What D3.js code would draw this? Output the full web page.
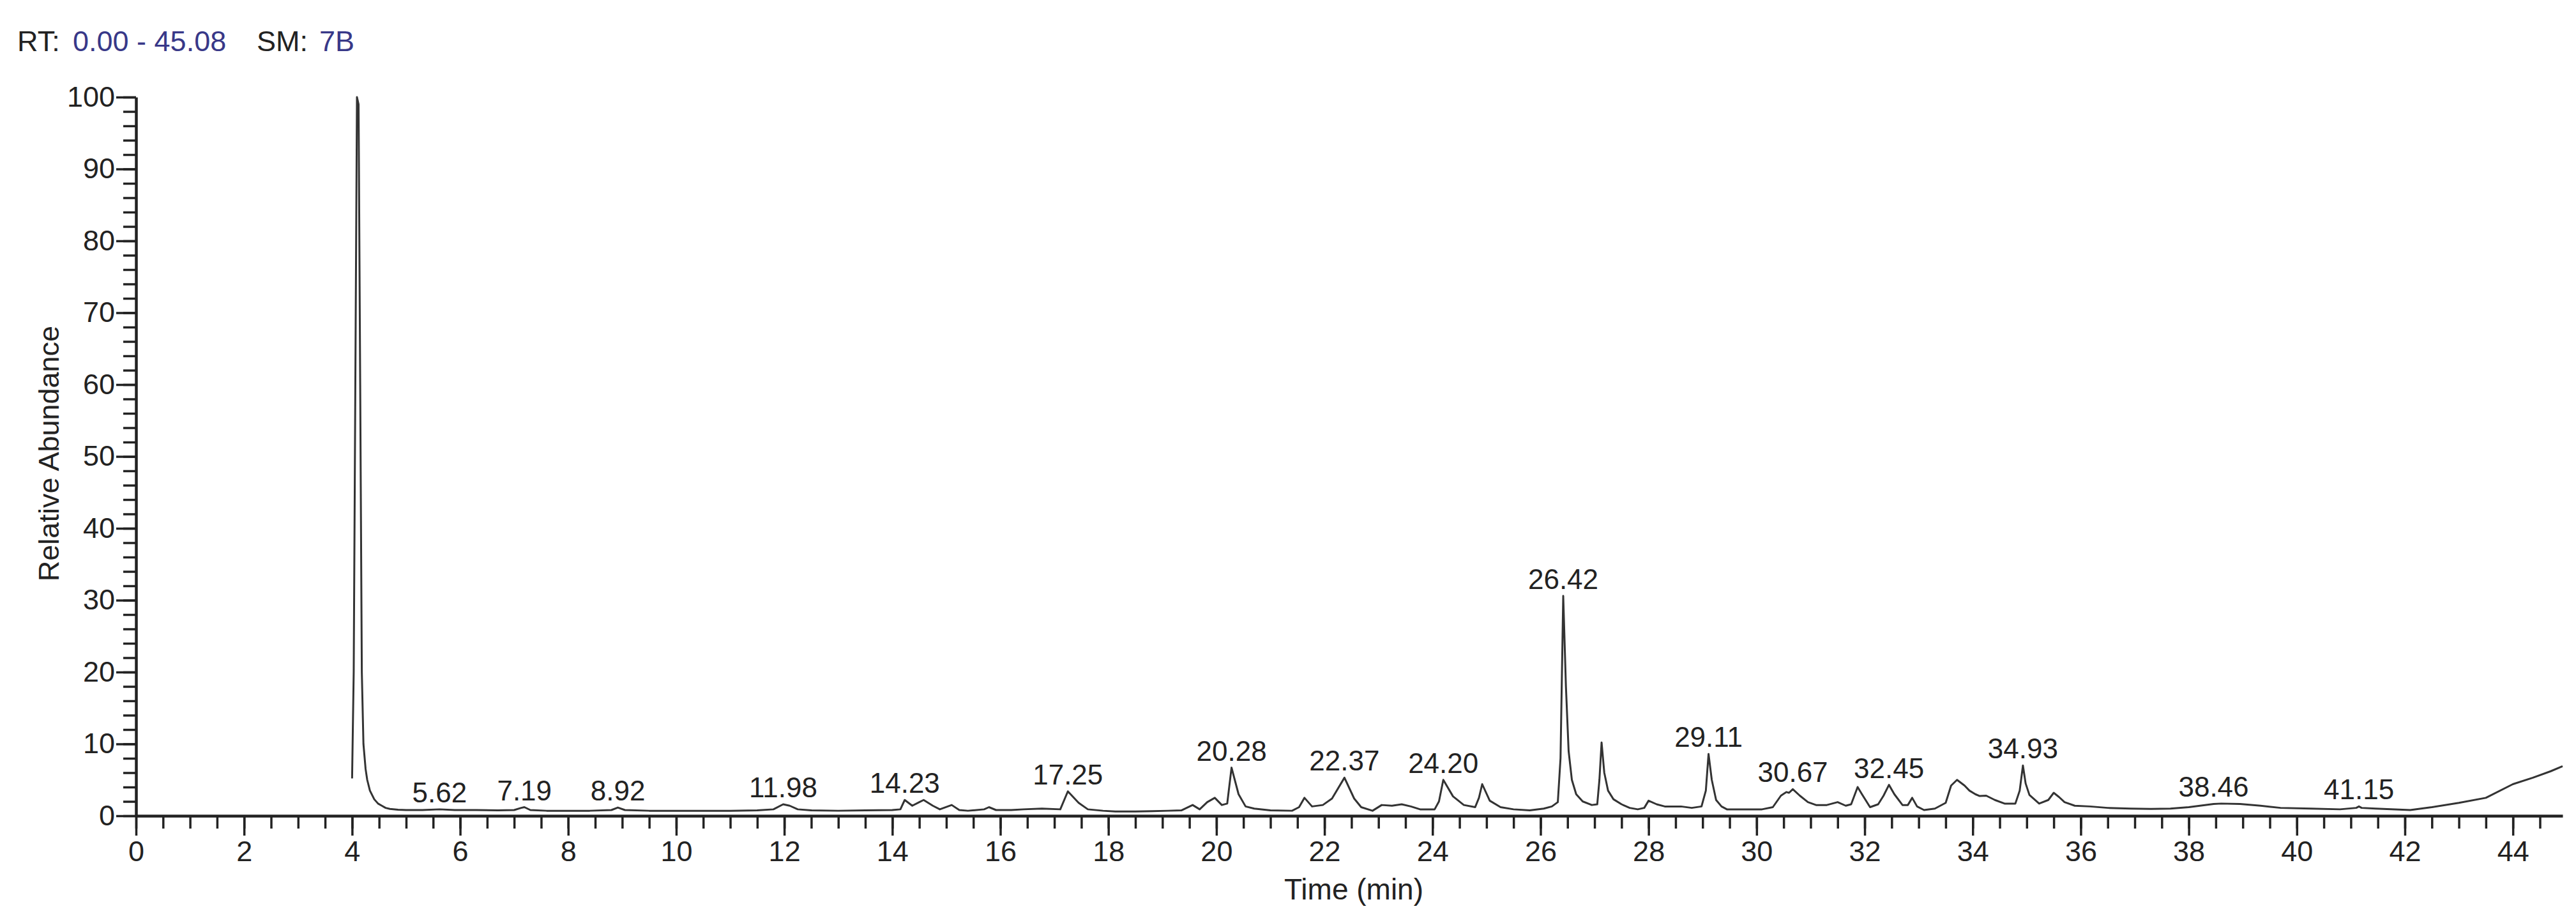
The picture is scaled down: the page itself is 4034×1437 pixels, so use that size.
<!DOCTYPE html>
<html>
<head>
<meta charset="utf-8">
<script src="https://cdn.jsdelivr.net/npm/d3@7"></script>
<style>
  body { margin: 0; background: #fff; }
  text { font-family: "Liberation Sans", Arial, sans-serif; }
</style>
</head>
<body>
<div id="chart"></div>
<script>
// chromatogram trace (time in min, relative abundance in %)
var rtTimes = [4.00, 4.03, 4.06, 4.09, 4.12, 4.15, 4.18, 4.21, 4.25, 4.28, 4.33, 4.41, 4.48, 4.55, 4.62, 4.70, 4.85,
  5.0, 5.3, 5.62, 5.9, 6.3, 6.7, 7.0, 7.13, 7.19, 7.3, 7.6, 8.0, 8.4, 8.8, 8.92, 9.05, 9.5, 10.0, 10.5, 11.0, 11.5,
  11.8, 11.98, 12.1, 12.25, 12.5, 13.0, 13.5, 14.0, 14.15, 14.23, 14.37, 14.5, 14.58, 14.75, 14.88, 15.1, 15.24, 15.4,
  15.7, 15.79, 15.92, 16.2, 16.43, 16.77, 17.11, 17.25, 17.35, 17.45, 17.62, 17.9, 18.13, 18.5, 18.81, 19.1, 19.35,
  19.56, 19.69, 19.83, 19.97, 20.1, 20.2, 20.28, 20.41, 20.54, 20.7, 21.0, 21.4, 21.53, 21.63, 21.77, 21.97, 22.14,
  22.37, 22.55, 22.68, 22.89, 23.06, 23.25, 23.43, 23.6, 23.77, 24.04, 24.12, 24.20, 24.38, 24.58, 24.79, 24.86, 24.92,
  25.06, 25.26, 25.5, 25.8, 26.06, 26.21, 26.32, 26.37, 26.42, 26.47, 26.52, 26.58, 26.66, 26.78, 26.95, 27.05, 27.09,
  27.13, 27.18, 27.25, 27.35, 27.5, 27.65, 27.8, 27.92, 28.0, 28.15, 28.3, 28.6, 28.8, 28.98, 29.06, 29.11, 29.17,
  29.25, 29.35, 29.45, 29.8, 30.1, 30.3, 30.45, 30.55, 30.6, 30.67, 30.8, 30.95, 31.1, 31.3, 31.5, 31.65, 31.75, 31.87,
  31.95, 32.1, 32.25, 32.35, 32.45, 32.55, 32.7, 32.8, 32.88, 32.97, 33.1, 33.3, 33.5, 33.6, 33.71, 33.85, 33.94, 34.05,
  34.13, 34.25, 34.41, 34.59, 34.79, 34.87, 34.93, 34.98, 35.05, 35.23, 35.4, 35.5, 35.6, 35.7, 35.89, 36.17, 36.5,
  36.92, 37.3, 37.66, 38.0, 38.46, 38.6, 38.95, 39.33, 39.7, 40.26, 40.8, 41.1, 41.15, 41.2, 41.46, 42.1, 42.5, 43.0,
  43.5, 44.0, 44.37, 44.7, 44.92];
var abundance = [5.2, 20, 60, 100, 99, 60, 20, 10, 6.5, 5.0, 3.5, 2.3, 1.7, 1.4, 1.1, 0.95, 0.85,
  0.8, 0.8, 0.9, 0.8, 0.8, 0.75, 0.8, 1.1, 1.2, 0.8, 0.7, 0.7, 0.7, 0.8, 1.15, 0.8, 0.7, 0.7, 0.7, 0.7, 0.75,
  0.9, 1.6, 1.4, 0.9, 0.75, 0.7, 0.75, 0.8, 0.9, 2.2, 1.4, 1.9, 2.2, 1.4, 0.9, 1.5, 0.8, 0.7,
  0.9, 1.2, 0.8, 0.8, 0.9, 1.0, 0.9, 3.4, 2.6, 1.8, 0.9, 0.7, 0.6, 0.6, 0.65, 0.7, 0.75,
  1.5, 0.9, 1.9, 2.5, 1.5, 1.7, 6.7, 3.0, 1.3, 1.0, 0.75, 0.7, 1.2, 2.5, 1.3, 1.5, 2.4,
  5.3, 2.4, 1.2, 0.7, 1.5, 1.4, 1.6, 1.3, 0.9, 0.9, 2.0, 5.0, 2.7, 1.5, 1.2, 2.5, 4.4,
  2.1, 1.2, 0.9, 0.75, 1.0, 1.3, 1.9, 8, 30.6, 18, 9, 5, 3, 2.0, 1.5, 1.6, 5,
  10.2, 6, 3.5, 2.3, 1.6, 1.1, 0.9, 1.1, 2.1, 1.6, 1.3, 1.3, 1.1, 1.3, 3.5, 8.6, 5,
  2.2, 1.3, 0.9, 0.9, 0.9, 1.2, 2.8, 3.3, 3.2, 3.7, 2.8, 1.9, 1.5, 1.5, 1.9, 1.4, 1.6, 4.0,
  3.0, 1.2, 1.6, 2.8, 4.3, 3.0, 1.5, 1.5, 2.5, 1.3, 0.8, 1.0, 1.8, 4.2, 5.0, 4.2, 3.5, 3.0,
  2.75, 2.8, 2.2, 1.7, 1.7, 3.5, 7.0, 4.5, 2.9, 1.7, 2.2, 3.2, 2.6, 1.9, 1.4, 1.3, 1.1,
  1.0, 0.95, 1.0, 1.2, 1.65, 1.7, 1.65, 1.4, 1.1, 1.0, 0.9, 1.1, 1.3, 1.1, 1.0, 0.8, 1.2, 1.8,
  2.5, 4.4, 5.3, 6.2, 6.9];

var peakLabels = ["5.62", "7.19", "8.92", "11.98", "14.23", "17.25", "20.28", "22.37", "24.20",
  "26.42", "29.11", "30.67", "32.45", "34.93", "38.46", "41.15"];

var xMajorTicks = d3.range(0, 45, 2);
var xMinorTicks = d3.range(0, 45, 0.5);
var yMajorTicks = d3.range(0, 101, 10);
var yMinorTicks = d3.range(0, 101, 2);

var svgWidth = 4034;
var svgHeight = 1437;

var svg = d3.select("#chart")
  .append("svg")
  .attr("width", svgWidth)
  .attr("height", svgHeight)
  .style("background", "#fff");

var xScale = d3.scaleLinear().domain([0, 44.92]).range([213, 4013]);
var yScale = d3.scaleLinear().domain([0, 100]).range([1277, 152]);

var data = rtTimes.map((t, i) => ({ t: t, v: abundance[i] }));

// header
var header = svg.append("text")
  .attr("y", 80)
  .attr("font-size", 45)
  .attr("fill", "#222");
header.append("tspan").attr("x", 27).text("RT:");
header.append("tspan").attr("x", 114).attr("fill", "#383888").text("0.00 - 45.08");
header.append("tspan").attr("x", 402).text("SM:");
header.append("tspan").attr("x", 500).attr("fill", "#383888").text("7B");

// x axis: minor ticks first, then labelled majors
svg.append("g")
  .attr("transform", `translate(0, ${yScale(0)})`)
  .call(d3.axisBottom(xScale).tickValues(xMinorTicks).tickSize(20).tickSizeOuter(0).tickFormat(""))
  .call(g => g.select(".domain").remove())
  .call(g => g.selectAll("line").attr("stroke", "#222").attr("stroke-width", 3.5));

svg.append("g")
  .attr("transform", `translate(0, ${yScale(0)})`)
  .call(d3.axisBottom(xScale).tickValues(xMajorTicks).tickSize(31).tickSizeOuter(0).tickPadding(8).tickFormat(d3.format("d")))
  .call(g => g.select(".domain").attr("stroke", "#222").attr("stroke-width", 4.5))
  .call(g => g.selectAll("line").attr("stroke", "#222").attr("stroke-width", 3.5))
  .call(g => g.selectAll("text").attr("font-size", 45).attr("fill", "#222")
    .attr("font-family", "'Liberation Sans', Arial, sans-serif"));

// y axis
svg.append("g")
  .attr("transform", `translate(${xScale(0)}, 0)`)
  .call(d3.axisLeft(yScale).tickValues(yMinorTicks).tickSize(20).tickSizeOuter(0).tickFormat(""))
  .call(g => g.select(".domain").remove())
  .call(g => g.selectAll("line").attr("stroke", "#222").attr("stroke-width", 3.5));

svg.append("g")
  .attr("transform", `translate(${xScale(0)}, 0)`)
  .call(d3.axisLeft(yScale).tickValues(yMajorTicks).tickSize(31).tickSizeOuter(0).tickPadding(2).tickFormat(d3.format("d")))
  .call(g => g.select(".domain").attr("stroke", "#222").attr("stroke-width", 4.5))
  .call(g => g.selectAll("line").attr("stroke", "#222").attr("stroke-width", 3.5))
  .call(g => g.selectAll("text").attr("font-size", 45).attr("fill", "#222")
    .attr("font-family", "'Liberation Sans', Arial, sans-serif"));

// trace
var line = d3.line()
  .x(d => xScale(d.t))
  .y(d => yScale(d.v));

svg.append("path")
  .datum(data)
  .attr("fill", "none")
  .attr("stroke", "#333")
  .attr("stroke-width", 3)
  .attr("stroke-linejoin", "round")
  .attr("d", line);

// peak labels sit just above the local maximum of the trace
function peakHeight(t) {
  var near = data.filter(d => Math.abs(d.t - t) <= 0.08);
  return d3.max(near, d => d.v);
}

svg.selectAll(".peak")
  .data(peakLabels)
  .enter()
  .append("text")
  .attr("class", "peak")
  .attr("x", d => xScale(+d))
  .attr("y", d => yScale(peakHeight(+d)) - 11)
  .attr("text-anchor", "middle")
  .attr("font-size", 44)
  .attr("fill", "#222")
  .text(d => d);

// axis titles
svg.append("text")
  .attr("transform", "rotate(-90)")
  .attr("x", -710)
  .attr("y", 92)
  .attr("text-anchor", "middle")
  .attr("font-size", 45)
  .attr("fill", "#222")
  .text("Relative Abundance");

svg.append("text")
  .attr("x", 2120)
  .attr("y", 1408)
  .attr("text-anchor", "middle")
  .attr("font-size", 46)
  .attr("fill", "#222")
  .text("Time (min)");
</script>
</body>
</html>
